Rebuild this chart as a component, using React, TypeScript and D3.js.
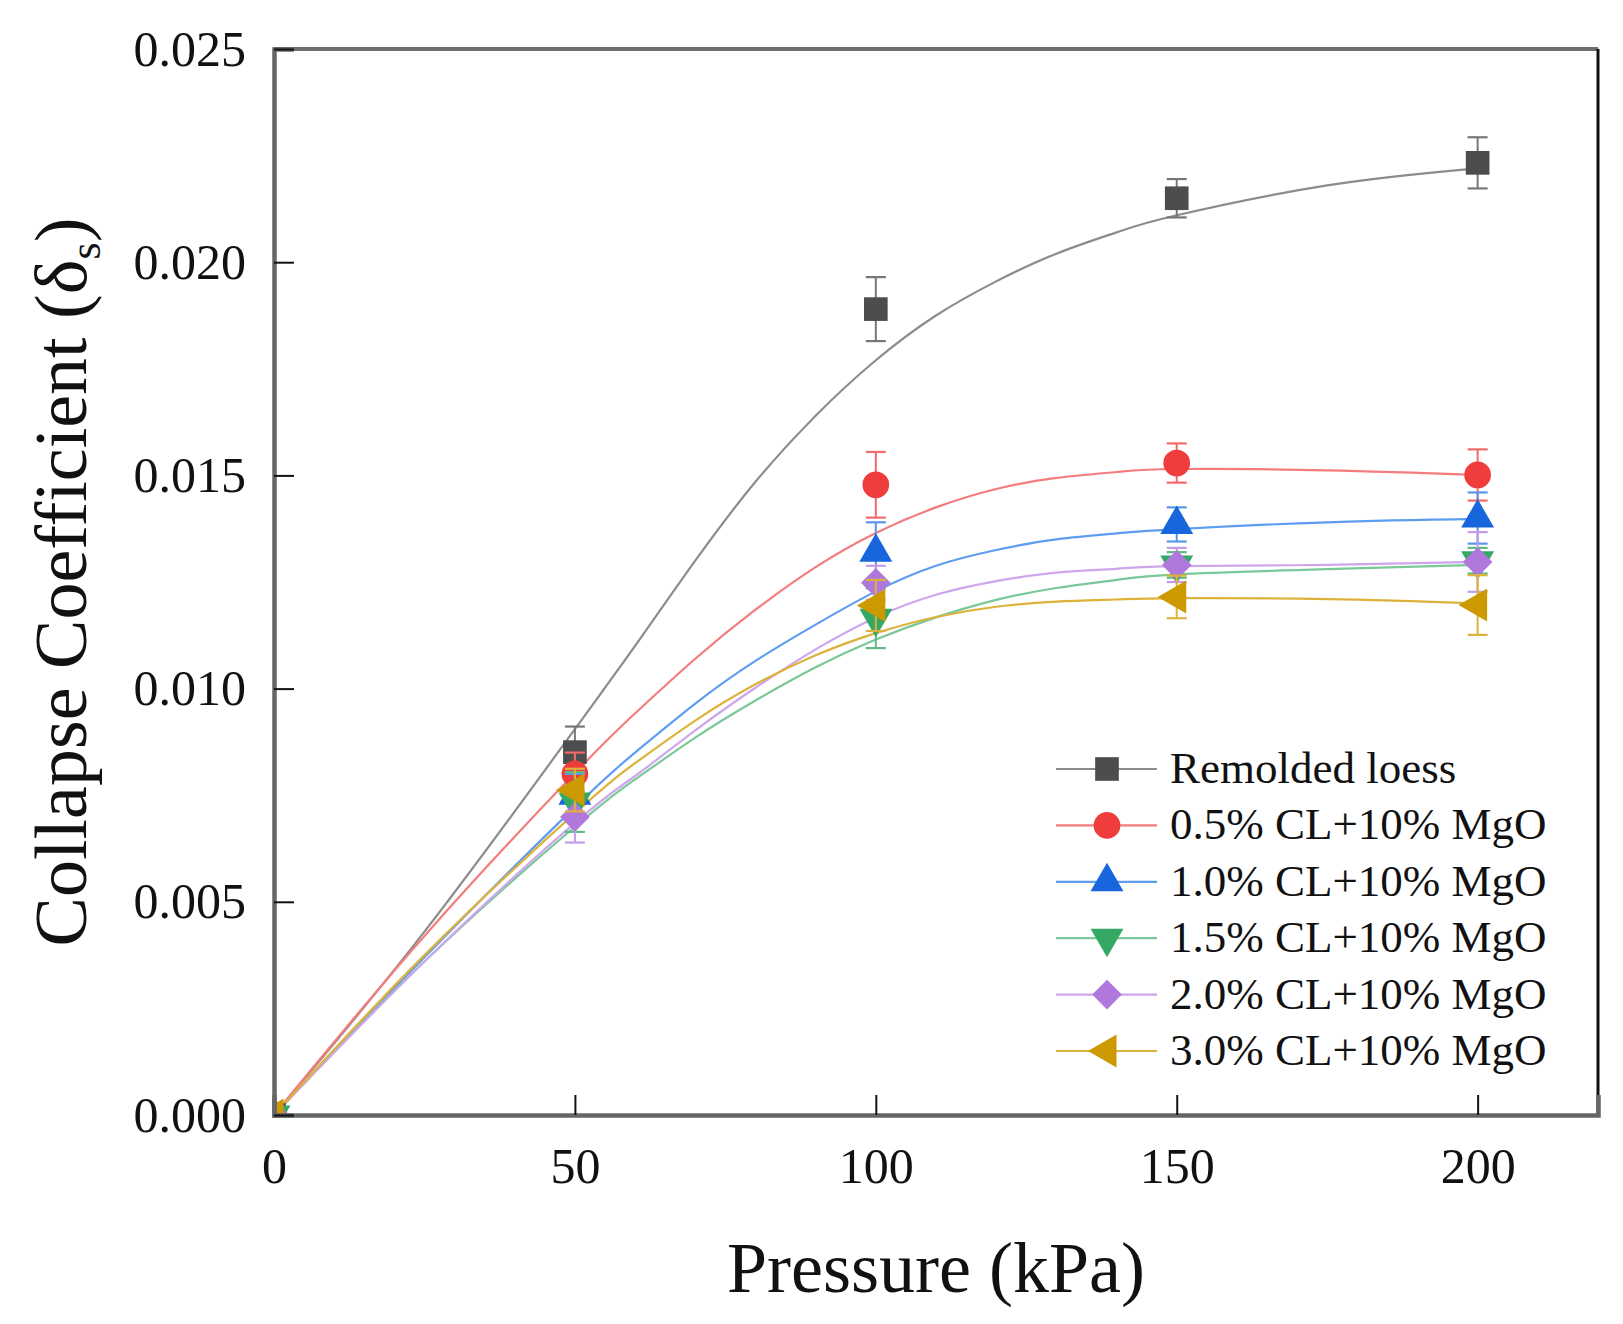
import React, { useRef, useEffect } from 'react';
import * as d3 from 'd3';

// measured pressures (kPa)
const pressures = [0, 50, 100, 150, 200];

const seriesNames = [
    'Remolded loess',
    '0.5% CL+10% MgO',
    '1.0% CL+10% MgO',
    '1.5% CL+10% MgO',
    '2.0% CL+10% MgO',
    '3.0% CL+10% MgO',
];

// collapse coefficient means
const remolded = [0, 0.00851, 0.0189, 0.0215, 0.02233];
const cl05 = [0, 0.0080, 0.01478, 0.01529, 0.01501];
const cl10 = [0, 0.0075, 0.0132, 0.01385, 0.0140];
const cl15 = [0, 0.00734, 0.01165, 0.0129, 0.0130];
const cl20 = [0, 0.00699, 0.01248, 0.0129, 0.01297];
const cl30 = [0, 0.00762, 0.01195, 0.01215, 0.01196];

// error bars (+/-)
const remoldedErr = [0, 0.0006, 0.00075, 0.00045, 0.0006];
const cl05Err = [0, 0.0005, 0.00077, 0.00046, 0.0006];
const cl10Err = [0, 0.0005, 0.0007, 0.0004, 0.0006];
const cl15Err = [0, 0.0007, 0.0007, 0.0003, 0.0003];
const cl20Err = [0, 0.0006, 0.0004, 0.0004, 0.0007];
const cl30Err = [0, 0.0005, 0.0006, 0.0005, 0.0007];

// fitted curves
const fitX = [0, 25, 50, 60, 70, 80, 90, 100, 110, 120, 130, 140, 150, 175, 200];
const remoldedFit = [0, 0.0043, 0.00905, 0.0110, 0.0130, 0.01485, 0.0164, 0.0177, 0.01875, 0.01955, 0.0202, 0.0207, 0.0211, 0.0218, 0.0222];
const cl05Fit = [0, 0.0042, 0.00802, 0.00942, 0.0107, 0.01185, 0.01285, 0.01365, 0.01425, 0.01468, 0.01494, 0.01508, 0.01515, 0.01512, 0.01501];
const cl10Fit = [0, 0.0037, 0.00722, 0.0085, 0.00965, 0.01065, 0.0115, 0.01228, 0.01288, 0.01325, 0.0135, 0.01364, 0.01374, 0.0139, 0.01398];
const cl15Fit = [0, 0.0036, 0.00676, 0.00787, 0.00885, 0.00972, 0.0105, 0.01115, 0.01167, 0.01208, 0.01236, 0.01255, 0.01268, 0.0128, 0.0129];
const cl20Fit = [0, 0.0036, 0.00685, 0.00795, 0.00902, 0.01002, 0.01092, 0.01167, 0.0122, 0.01252, 0.01272, 0.01281, 0.01287, 0.0129, 0.01297];
const cl30Fit = [0, 0.00375, 0.00708, 0.00825, 0.00925, 0.0101, 0.01078, 0.0113, 0.01168, 0.01192, 0.01204, 0.01209, 0.01212, 0.0121, 0.0120];

const xTicks = [0, 50, 100, 150, 200];
const yTicks = [0, 0.005, 0.01, 0.015, 0.02, 0.025];

const markerColors = ['#4d4d4d', '#ef3d3d', '#1766dd', '#36a866', '#b077dc', '#cc9900'];
const lineColors = ['#8c8c8c', '#f47c7c', '#5e9df0', '#7ac898', '#cda6ec', '#ddb23c'];
const errColors = ['#777777', '#f36a6a', '#5a96ea', '#5fbb84', '#c49be6', '#ddb23c'];
const shapes = ['square', 'circle', 'up', 'down', 'diamond', 'left'];

const means = [remolded, cl05, cl10, cl15, cl20, cl30];
const errs = [remoldedErr, cl05Err, cl10Err, cl15Err, cl20Err, cl30Err];
const fits = [remoldedFit, cl05Fit, cl10Fit, cl15Fit, cl20Fit, cl30Fit];

const W = 1623;
const H = 1324;
const FONT = '"Liberation Serif", "Times New Roman", serif';

const markerPath = (shape: string) => {
    switch (shape) {
        case 'square': return d3.symbol(d3.symbolSquare, 560)()!;
        case 'circle': return d3.symbol(d3.symbolCircle, 560)()!;
        case 'diamond': return d3.symbol(d3.symbolSquare, 440)()!;
        default: return d3.symbol(d3.symbolTriangle, 470)()!;
    }
};
const markerRotate = (shape: string) => {
    if (shape === 'down') return 180;
    if (shape === 'left') return -90;
    if (shape === 'diamond') return 45;
    return 0;
};

const App: React.FC = () => {
    const svgRef = useRef<SVGSVGElement>(null);

    useEffect(() => {
        if (!svgRef.current) return;
        const svg = d3.select(svgRef.current);
        svg.selectAll('*').remove();

        const margin = { top: 49, right: 25, bottom: 209, left: 274 };
        const innerWidth = W - margin.left - margin.right;
        const innerHeight = H - margin.top - margin.bottom;

        const x = d3.scaleLinear().domain([0, 220]).range([0, innerWidth]);
        const y = d3.scaleLinear().domain([0, 0.025]).range([innerHeight, 0]);

        const g = svg.append('g').attr('transform', `translate(${margin.left},${margin.top})`);

        svg.append('defs').append('clipPath').attr('id', 'plotClip')
            .append('rect').attr('x', 0).attr('y', 0).attr('width', innerWidth).attr('height', innerHeight);

        const plot = g.append('g').attr('clip-path', 'url(#plotClip)');

        // fit lines
        const line = d3.line<number>()
            .x((_, i) => x(fitX[i]))
            .y(d => y(d))
            .curve(d3.curveNatural);

        fits.forEach((f, s) => {
            plot.append('path')
                .datum(f)
                .attr('fill', 'none')
                .attr('stroke', lineColors[s])
                .attr('stroke-width', 2.2)
                .attr('d', line);
        });

        // error bars + markers
        means.forEach((m, s) => {
            const grp = plot.append('g');
            m.forEach((v, i) => {
                const e = errs[s][i];
                if (e > 0) {
                    const px = x(pressures[i]);
                    grp.append('line')
                        .attr('x1', px).attr('x2', px)
                        .attr('y1', y(v - e)).attr('y2', y(v + e))
                        .attr('stroke', errColors[s]).attr('stroke-width', 2);
                    [v - e, v + e].forEach(c => {
                        grp.append('line')
                            .attr('x1', px - 10).attr('x2', px + 10)
                            .attr('y1', y(c)).attr('y2', y(c))
                            .attr('stroke', errColors[s]).attr('stroke-width', 2.2);
                    });
                }
            });
            m.forEach((v, i) => {
                grp.append('path')
                    .attr('d', markerPath(shapes[s]))
                    .attr('transform', `translate(${x(pressures[i])},${y(v)}) rotate(${markerRotate(shapes[s])})`)
                    .attr('fill', markerColors[s]);
            });
        });

        // frame
        g.append('line').attr('x1', 0).attr('x2', innerWidth).attr('y1', 0).attr('y2', 0)
            .attr('stroke', '#6e6e6e').attr('stroke-width', 4);
        g.append('line').attr('x1', innerWidth).attr('x2', innerWidth).attr('y1', 0).attr('y2', innerHeight)
            .attr('stroke', '#111').attr('stroke-width', 3);

        // x axis
        const xAxis = g.append('g')
            .attr('transform', `translate(0,${innerHeight})`)
            .call(d3.axisBottom(x).tickValues(xTicks).tickSize(-20).tickPadding(32).tickFormat(d3.format('d')));
        xAxis.select('.domain').attr('stroke', '#666').attr('stroke-width', 4.5);
        xAxis.selectAll('.tick line').attr('stroke', '#111').attr('stroke-width', 2);
        xAxis.selectAll('.tick text')
            .attr('font-family', FONT).attr('font-size', 50).attr('fill', '#111');

        // y axis
        const yAxis = g.append('g')
            .call(d3.axisLeft(y).tickValues(yTicks).tickSize(-20).tickPadding(28).tickFormat(d3.format('.3f')));
        yAxis.select('.domain').attr('stroke', '#666').attr('stroke-width', 4.5);
        yAxis.selectAll('.tick line').attr('stroke', '#111').attr('stroke-width', 2);
        yAxis.selectAll('.tick text')
            .attr('font-family', FONT).attr('font-size', 50).attr('fill', '#111');

        // axis titles
        svg.append('text')
            .attr('x', margin.left + innerWidth / 2)
            .attr('y', 1292)
            .attr('text-anchor', 'middle')
            .attr('font-family', FONT).attr('font-size', 72).attr('fill', '#111')
            .text('Pressure (kPa)');

        const yt = svg.append('text')
            .attr('transform', `translate(86,${margin.top + innerHeight / 2}) rotate(-90)`)
            .attr('text-anchor', 'middle')
            .attr('font-family', FONT).attr('font-size', 74).attr('fill', '#111');
        yt.append('tspan').text('Collapse Coefficient (δ');
        yt.append('tspan').attr('font-size', 44).attr('dy', 14).text('s');
        yt.append('tspan').attr('dy', -14).text(')');

        // legend
        const legend = svg.append('g').attr('transform', 'translate(1056,769)');
        seriesNames.forEach((name, s) => {
            const row = legend.append('g').attr('transform', `translate(0,${s * 56.4})`);
            row.append('line').attr('x1', 0).attr('x2', 101).attr('y1', 0).attr('y2', 0)
                .attr('stroke', lineColors[s]).attr('stroke-width', 2.2);
            row.append('path')
                .attr('d', markerPath(shapes[s]))
                .attr('transform', `translate(51,0) rotate(${markerRotate(shapes[s])})`)
                .attr('fill', markerColors[s]);
            row.append('text')
                .attr('x', 114).attr('y', 14)
                .attr('font-family', FONT).attr('font-size', 45).attr('fill', '#111')
                .text(name);
        });
    }, []);

    return (
        <svg
            ref={svgRef}
            width={W}
            height={H}
            viewBox={`0 0 ${W} ${H}`}
            style={{ position: 'absolute', left: 0, top: 0, background: '#fff' }}
        />
    );
};

export default App;
